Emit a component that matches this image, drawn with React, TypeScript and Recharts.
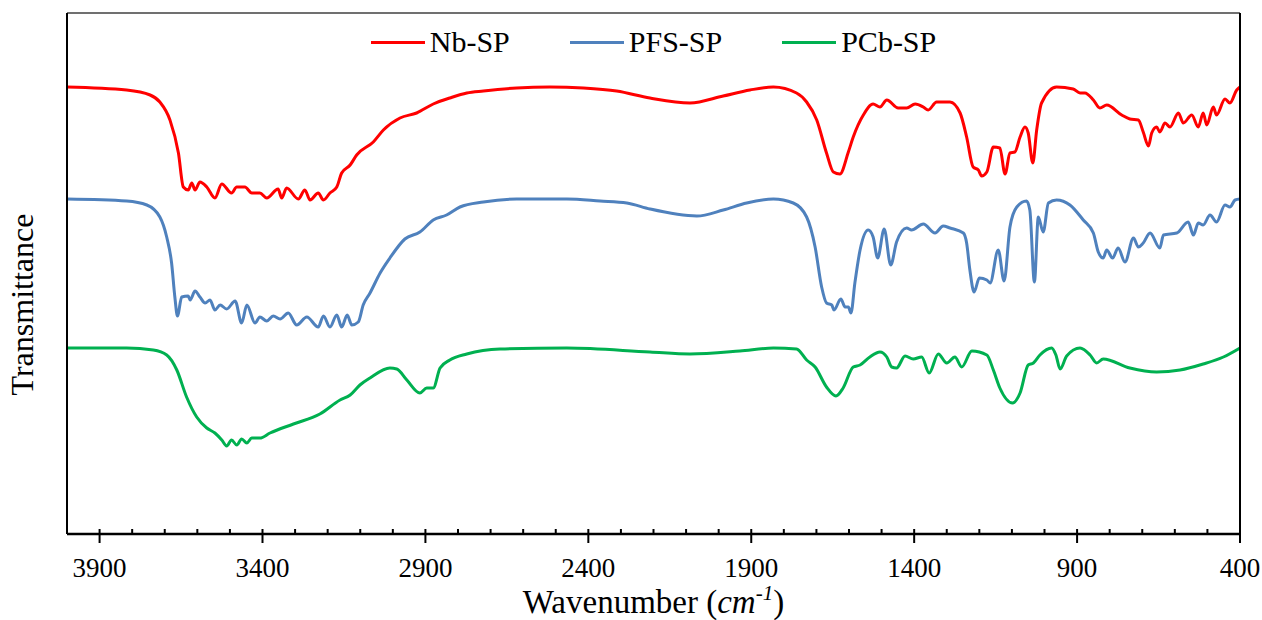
import { LineChart, Line, XAxis, YAxis, Legend } from "recharts";

// [wavenumber (cm-1), transmittance (a.u.)]
const nbSp: [number, number][] = [
  [4000, 448], [3817, 445], [3745, 440], [3715, 433], [3684, 415], [3658, 382], [3643, 348], [3628, 345],
  [3617, 352], [3607, 345], [3592, 353], [3571, 348], [3546, 337], [3525, 351], [3495, 342], [3479, 348],
  [3454, 348], [3433, 342], [3408, 342], [3387, 337], [3352, 346], [3341, 337], [3326, 347], [3290, 336],
  [3270, 345], [3254, 335], [3229, 342], [3213, 335], [3193, 342], [3172, 348], [3157, 362], [3131, 370],
  [3111, 380], [3060, 393], [3029, 405], [2978, 417], [2927, 422], [2876, 431], [2825, 437], [2773, 442],
  [2722, 444], [2620, 447], [2518, 448], [2415, 447], [2313, 444], [2211, 437], [2088, 432], [1986, 439],
  [1904, 445], [1832, 448], [1761, 442], [1730, 433], [1699, 415], [1669, 382], [1648, 363], [1628, 361],
  [1602, 383], [1587, 398], [1556, 420], [1526, 431], [1505, 428], [1484, 435], [1449, 427], [1423, 427],
  [1397, 431], [1372, 428], [1357, 425], [1331, 433], [1290, 433], [1259, 422], [1239, 398], [1219, 368],
  [1203, 365], [1193, 359], [1177, 363], [1157, 388], [1137, 387], [1121, 361], [1106, 382], [1091, 383],
  [1075, 398], [1060, 408], [1050, 402], [1036, 372], [1024, 405], [1009, 432], [963, 448], [912, 446],
  [891, 442], [876, 442], [850, 435], [830, 427], [809, 430], [763, 420], [738, 416], [712, 415],
  [697, 403], [681, 389], [671, 402], [656, 408], [646, 403], [630, 412], [615, 408], [589, 422],
  [574, 412], [548, 420], [528, 408], [513, 422], [502, 410], [482, 428], [472, 420], [446, 436],
  [431, 432], [410, 445], [400, 448],
];

const pfsSp: [number, number][] = [
  [4000, 336], [3817, 334], [3755, 330], [3715, 318], [3694, 298], [3679, 272], [3669, 238], [3661, 219],
  [3648, 238], [3628, 239], [3622, 235], [3607, 244], [3592, 238], [3576, 232], [3561, 235], [3546, 225],
  [3530, 230], [3510, 226], [3484, 234], [3464, 212], [3448, 230], [3423, 212], [3408, 218], [3387, 214],
  [3367, 219], [3346, 216], [3321, 222], [3295, 210], [3264, 218], [3229, 208], [3213, 219], [3193, 208],
  [3172, 220], [3157, 208], [3140, 220], [3126, 210], [3106, 213], [3091, 230], [3070, 242], [3039, 262],
  [3009, 277], [2963, 296], [2917, 303], [2876, 315], [2835, 320], [2794, 328], [2722, 333], [2620, 336],
  [2466, 336], [2364, 334], [2282, 332], [2211, 326], [2067, 319], [1986, 325], [1914, 332], [1832, 336],
  [1771, 332], [1730, 318], [1704, 288], [1684, 248], [1669, 232], [1653, 230], [1646, 225], [1625, 236],
  [1612, 228], [1602, 228], [1594, 222], [1582, 252], [1566, 285], [1541, 305], [1526, 298], [1512, 277],
  [1492, 306], [1472, 270], [1454, 293], [1423, 307], [1408, 305], [1372, 311], [1336, 302], [1311, 309],
  [1290, 307], [1249, 302], [1239, 292], [1229, 265], [1216, 243], [1200, 257], [1177, 255], [1167, 252],
  [1142, 285], [1124, 254], [1106, 308], [1085, 328], [1055, 334], [1045, 325], [1031, 253], [1019, 318],
  [1004, 303], [988, 332], [963, 335], [922, 330], [881, 315], [850, 302], [835, 283], [820, 277],
  [809, 285], [791, 277], [774, 287], [753, 273], [727, 297], [712, 288], [697, 292], [676, 302],
  [646, 287], [635, 300], [594, 302], [559, 313], [543, 300], [528, 312], [513, 310], [492, 320],
  [472, 313], [446, 330], [431, 328], [415, 335], [400, 336],
];

const pcbSp: [number, number][] = [
  [4000, 187], [3817, 187], [3735, 185], [3694, 180], [3663, 165], [3633, 138], [3602, 118], [3571, 107],
  [3546, 102], [3525, 95], [3510, 89], [3495, 95], [3479, 90], [3464, 96], [3448, 92], [3433, 97],
  [3408, 97], [3377, 102], [3305, 111], [3224, 121], [3162, 135], [3131, 140], [3101, 150], [3070, 157],
  [3009, 167], [2988, 166], [2957, 155], [2917, 142], [2896, 147], [2876, 147], [2855, 167], [2825, 175],
  [2773, 181], [2671, 186], [2466, 187], [2211, 183], [2088, 181], [1935, 184], [1832, 187], [1761, 186],
  [1730, 175], [1704, 168], [1669, 148], [1640, 139], [1618, 147], [1587, 168], [1566, 170], [1536, 178],
  [1505, 183], [1484, 178], [1469, 168], [1454, 167], [1428, 179], [1403, 176], [1377, 178], [1354, 162],
  [1326, 181], [1300, 172], [1275, 178], [1254, 168], [1223, 184], [1177, 180], [1157, 165], [1137, 147],
  [1098, 132], [1075, 142], [1050, 170], [1034, 172], [1014, 180], [978, 187], [965, 180], [952, 166],
  [932, 179], [891, 187], [860, 180], [840, 172], [820, 176], [738, 167], [656, 163], [584, 165],
  [513, 171], [451, 178], [400, 187],
];

const majorTicks = [3900, 3400, 2900, 2400, 1900, 1400, 900, 400];
const minorTicks = [
  3800, 3700, 3600, 3500, 3300, 3200, 3100, 3000, 2800, 2700, 2600, 2500, 2300, 2200, 2100, 2000,
  1800, 1700, 1600, 1500, 1300, 1200, 1100, 1000, 800, 700, 600, 500,
];

const series = [
  { name: "Nb-SP", color: "#FF0000", points: nbSp },
  { name: "PFS-SP", color: "#4F81BD", points: pfsSp },
  { name: "PCb-SP", color: "#00B050", points: pcbSp },
];

const FONT = '"Liberation Serif", "Times New Roman", serif';

function WnTick(props: any) {
  const { x, y, payload } = props;
  const major = majorTicks.includes(payload.value);
  return (
    <g>
      <line x1={x} x2={x} y1={y - 5} y2={major ? y + 9 : y} stroke="#000" strokeWidth={2} />
      {major && (
        <text x={x} y={y + 43} textAnchor="middle" fontSize={27} fontFamily={FONT} fill="#000">
          {payload.value}
        </text>
      )}
    </g>
  );
}

function XTitle(props: any) {
  const vb = props.viewBox || {};
  return (
    <text
      x={vb.x + vb.width / 2}
      y={vb.y + 79}
      textAnchor="middle"
      fontSize={33}
      fontFamily={FONT}
      fill="#000"
    >
      Wavenumber (<tspan fontStyle="italic">cm</tspan>
      <tspan fontStyle="italic" fontSize={21} dy={-13}>-1</tspan>
      <tspan dy={13}>)</tspan>
    </text>
  );
}

function YTitle(props: any) {
  const vb = props.viewBox || {};
  const cy = vb.y + vb.height / 2 + 31;
  return (
    <text
      transform={`translate(${vb.x - 33}, ${cy}) rotate(-90)`}
      textAnchor="middle"
      fontSize={32}
      fontFamily={FONT}
      fill="#000"
    >
      Transmittance
    </text>
  );
}

function LegendBox() {
  return (
    <div style={{ display: "flex", justifyContent: "center", gap: 60, fontFamily: FONT, fontSize: 30 }}>
      {series.map((s) => (
        <div key={s.name} style={{ display: "flex", alignItems: "center", height: 34, lineHeight: "34px" }}>
          <div style={{ width: 54, height: 3, background: s.color }} />
          <span style={{ marginLeft: 5, color: "#000" }}>{s.name}</span>
        </div>
      ))}
    </div>
  );
}

export default function App() {
  return (
    <div style={{ position: "absolute", left: 0, top: 0, width: 1262, height: 620, background: "#fff" }}>
      <LineChart width={1262} height={620} margin={{ top: 12, right: 21, bottom: 0, left: 66 }}>
        <XAxis
          dataKey="wn"
          type="number"
          domain={[400, 4000]}
          reversed
          allowDataOverflow
          ticks={[...majorTicks, ...minorTicks].sort((a, b) => b - a)}
          interval={0}
          tickLine={false}
          tickSize={0}
          tickMargin={0}
          tick={<WnTick />}
          axisLine={{ stroke: "#000", strokeWidth: 2.5 }}
          height={86}
          label={{ content: <XTitle /> }}
        />
        <XAxis
          xAxisId="top"
          orientation="top"
          type="number"
          domain={[400, 4000]}
          reversed
          height={1}
          tick={false}
          tickLine={false}
          axisLine={{ stroke: "#404040", strokeWidth: 1.5 }}
        />
        <YAxis
          type="number"
          domain={[1, 522]}
          allowDataOverflow
          width={1}
          tick={false}
          tickLine={false}
          axisLine={{ stroke: "#000", strokeWidth: 2 }}
          label={{ content: <YTitle /> }}
        />
        <YAxis
          yAxisId="r"
          orientation="right"
          type="number"
          domain={[0, 1]}
          width={1}
          tick={false}
          tickLine={false}
          axisLine={{ stroke: "#000", strokeWidth: 2 }}
        />
        <Legend
          verticalAlign="middle"
          wrapperStyle={{ top: 25, left: 67, width: 1173 }}
          content={() => <LegendBox />}
        />
        {series.map((s) => (
          <Line
            key={s.name}
            name={s.name}
            data={s.points.map(([wn, t]) => ({ wn, t }))}
            dataKey="t"
            type="monotone"
            stroke={s.color}
            strokeWidth={3}
            dot={false}
            activeDot={false}
            isAnimationActive={false}
          />
        ))}
      </LineChart>
    </div>
  );
}
